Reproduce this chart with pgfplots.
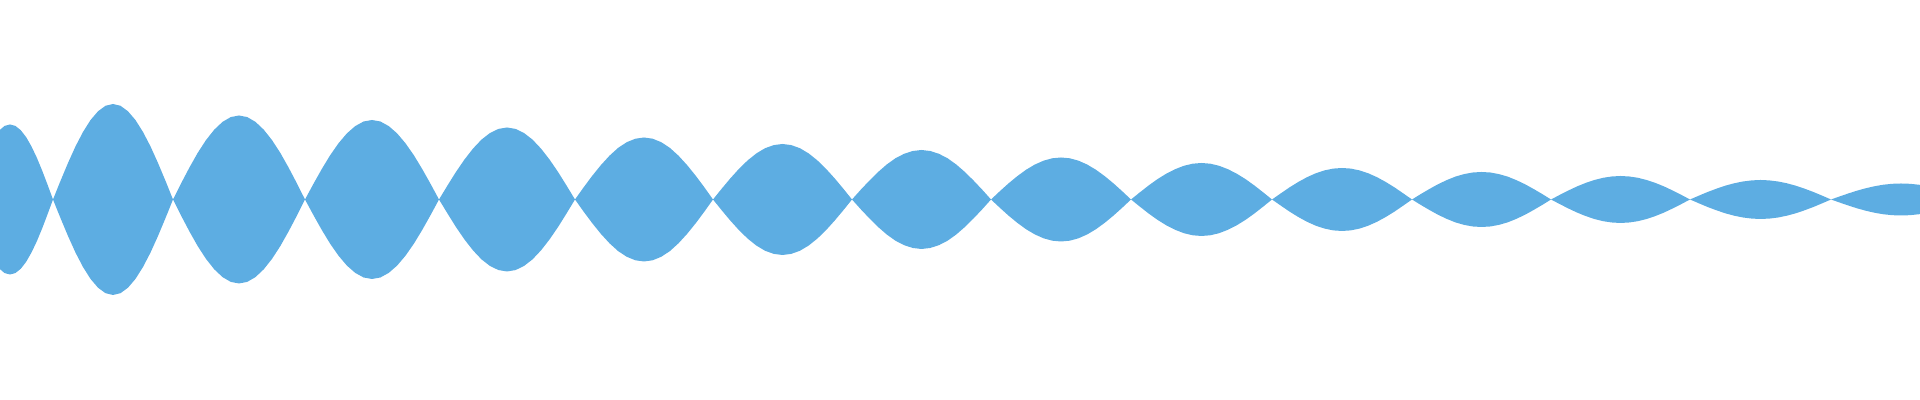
\documentclass[border=0pt]{standalone}
\usepackage{pgfplots}
\usepackage{pgfplotstable}
\pgfplotsset{compat=1.18}
\usepgfplotslibrary{fillbetween}
\definecolor{wave}{HTML}{5DADE2}

% envelope of the waveform: x in pixels, a = half height about the centre line
\pgfplotstableread{
x a
0 69.7
4.625 73.6
10 75
15.375 73.6
20.75 69.3
26.125 62.4
31.5 53.0
36.875 41.7
42.25 28.7
47.625 14.6
53 0
60.5 18.6
68 36.5
75.5 53.1
83 67.5
90.5 79.4
98 88.2
105.5 93.7
113 95.5
120.5 93.7
128 88.2
135.5 79.4
143 67.5
150.5 53.1
158 36.5
165.5 18.6
173 0
181.25 16.4
189.5 32.1
197.75 46.7
206 59.4
214.25 69.8
222.5 77.6
230.75 82.4
239 84
247.25 82.4
255.5 77.6
263.75 69.8
272 59.4
280.25 46.7
288.5 32.1
296.75 16.4
305 0
313.375 15.5
321.75 30.4
330.125 44.2
338.5 56.2
346.875 66.1
355.25 73.4
363.625 78.0
372 79.5
380.375 78.0
388.75 73.4
397.125 66.1
405.5 56.2
413.875 44.2
422.25 30.4
430.625 15.5
439 0
447.5 14.0
456 27.6
464.5 40.0
473 50.9
481.5 59.9
490 66.5
498.5 70.6
507 72
515.5 70.6
524 66.5
532.5 59.9
541 50.9
549.5 40.0
558 27.6
566.5 14.0
575 0
583.6 12.1
592.25 23.7
600.9 34.4
609.5 43.8
618.1 51.6
626.75 57.3
635.4 60.8
644 62
652.6 60.8
661.25 57.3
669.9 51.6
678.5 43.8
687.1 34.4
695.75 23.7
704.4 12.1
713 0
721.7 10.8
730.4 21.2
739.1 30.8
747.75 39.2
756.4 46.1
765.1 51.3
773.8 54.4
782.5 55.5
791.2 54.4
799.9 51.3
808.6 46.1
817.25 39.2
825.9 30.8
834.6 21.2
843.3 10.8
852 0
860.7 9.7
869.4 18.9
878.1 27.5
886.75 35.0
895.4 41.2
904.1 45.7
912.8 48.5
921.5 49.5
930.2 48.5
938.9 45.7
947.6 41.2
956.25 35.0
964.9 27.5
973.6 18.9
982.3 9.7
991 0
999.75 8.2
1008.5 16.1
1017.25 23.3
1026 29.7
1034.75 34.9
1043.5 38.8
1052.25 41.2
1061 42
1069.75 41.2
1078.5 38.8
1087.25 34.9
1096 29.7
1104.75 23.3
1113.5 16.1
1122.25 8.2
1131 0
1139.8 7.1
1148.6 14.0
1157.4 20.3
1166.25 25.8
1175.1 30.3
1183.9 33.7
1192.7 35.8
1201.5 36.5
1210.3 35.8
1219.1 33.7
1227.9 30.3
1236.75 25.8
1245.6 20.3
1254.4 14.0
1263.2 7.1
1272 0
1280.75 6.1
1289.5 12.1
1298.25 17.5
1307 22.3
1315.75 26.2
1324.5 29.1
1333.25 30.9
1342 31.5
1350.75 30.9
1359.5 29.1
1368.25 26.2
1377 22.3
1385.75 17.5
1394.5 12.1
1403.25 6.1
1412 0
1420.7 5.4
1429.4 10.5
1438.1 15.3
1446.75 19.4
1455.4 22.9
1464.1 25.4
1472.8 27.0
1481.5 27.5
1490.2 27.0
1498.9 25.4
1507.6 22.9
1516.25 19.4
1524.9 15.3
1533.6 10.5
1542.3 5.4
1551 0
1559.7 4.6
1568.4 9.0
1577.1 13.1
1585.75 16.6
1594.4 19.5
1603.1 21.7
1611.8 23.0
1620.5 23.5
1629.2 23.0
1637.9 21.7
1646.6 19.5
1655.25 16.6
1663.9 13.1
1672.6 9.0
1681.3 4.6
1690 0
1698.8 3.8
1707.6 7.5
1716.4 10.8
1725.25 13.8
1734.1 16.2
1742.9 18.0
1751.7 19.1
1760.5 19.5
1769.3 19.1
1778.1 18.0
1786.9 16.2
1795.75 13.8
1804.6 10.8
1813.4 7.5
1822.2 3.8
1831 0
1839.75 3.1
1848.5 6.1
1857.25 8.9
1866 11.3
1874.75 13.3
1883.5 14.8
1892.25 15.7
1901 16
1909.75 15.7
1918.5 14.8
1920 14.6
}\env

\begin{document}
\begin{tikzpicture}
\begin{axis}[
  scale only axis,
  width=19.2cm, height=4cm,
  xmin=0, xmax=1920,
  ymin=-200.5, ymax=199.5,
  hide axis
]
\addplot[draw=none, name path=up] table[x=x, y=a] {\env};
\addplot[draw=none, name path=lo] table[x=x, y expr=-\thisrow{a}] {\env};
\addplot[fill=wave, draw=none] fill between[of=up and lo];
\end{axis}
\pgfresetboundingbox
\path (current axis.south west) rectangle (current axis.north east);
\end{tikzpicture}
\end{document}
